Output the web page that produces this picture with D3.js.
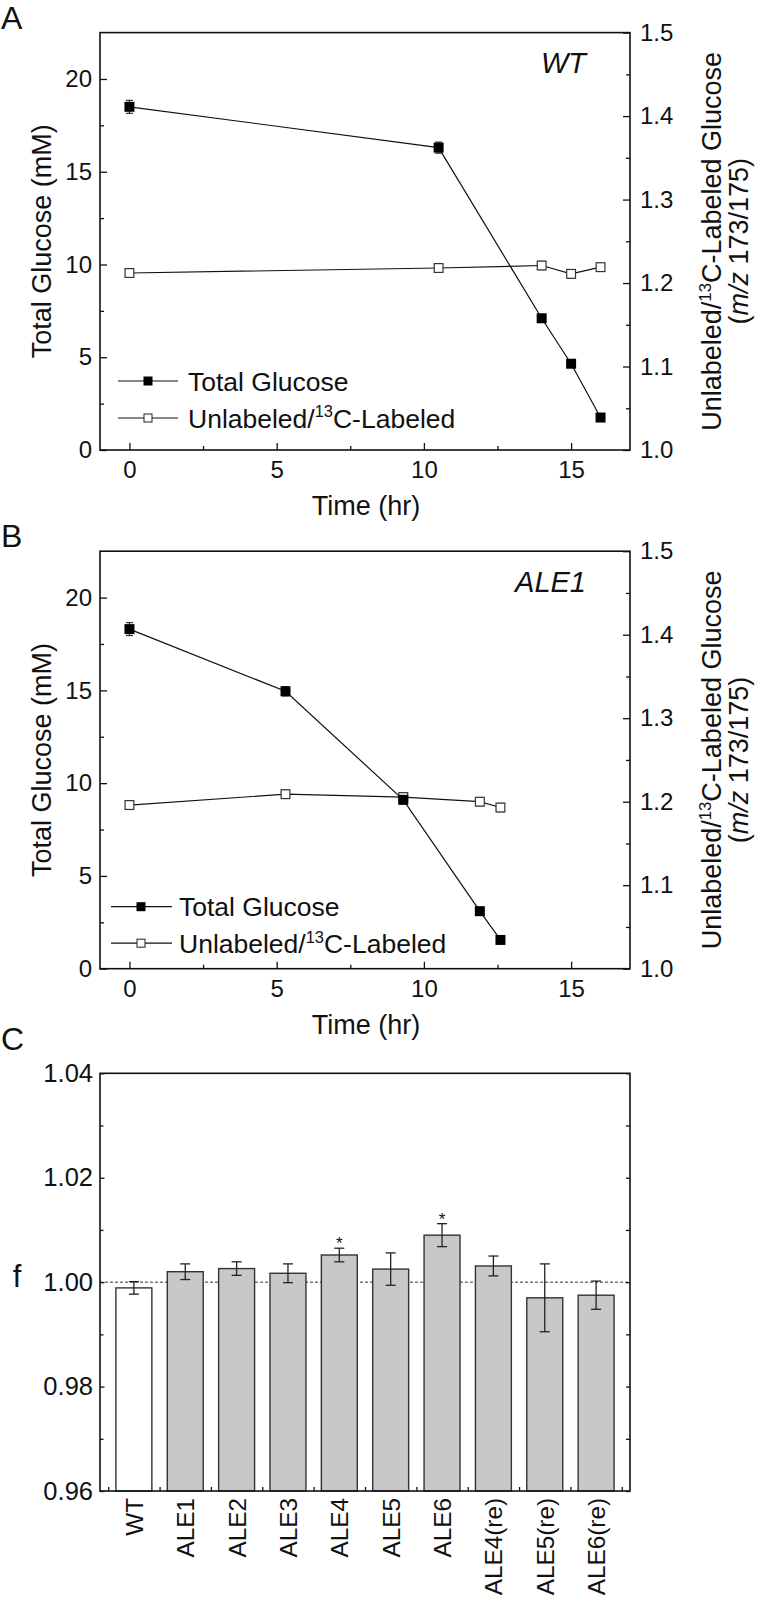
<!DOCTYPE html>
<html>
<head>
<meta charset="utf-8">
<script src="https://cdn.jsdelivr.net/npm/d3@7"></script>
<style>
  html, body { margin: 0; padding: 0; background: #fff; }
  svg { display: block; }
  text { font-family: "Liberation Sans", Arial, Helvetica, sans-serif; fill: #111; }
</style>
</head>
<body>
<svg id="chart" width="760" height="1599"></svg>
<script>
// ---------------- data ----------------
const timeA = [0, 10.5, 14, 15, 16];
const glucoseA = [18.5, 16.3, 7.1, 4.65, 1.75];
const glucoseErrA = [0.35, 0.3, 0.15, 0.1, 0.1];
const ratioA = [1.212, 1.218, 1.221, 1.211, 1.219];
const ratioErrA = [0.005, 0.005, 0.005, 0.005, 0.004];

const timeB = [0, 5.3, 9.3, 11.9, 12.6];
const glucoseB = [18.3, 14.95, 9.1, 3.1, 1.55];
const glucoseErrB = [0.35, 0.25, 0.2, 0.1, 0.1];
const ratioB = [1.196, 1.209, 1.2055, 1.200, 1.193];
const ratioErrB = [0.005, 0.005, 0.005, 0.005, 0.005];

const timeTicks = [0, 5, 10, 15];
const glucoseTicks = [0, 5, 10, 15, 20];
const ratioTicks = [1.0, 1.1, 1.2, 1.3, 1.4, 1.5];

const categories = ["WT", "ALE1", "ALE2", "ALE3", "ALE4", "ALE5", "ALE6", "ALE4(re)", "ALE5(re)", "ALE6(re)"];
const fValues = [0.9989, 1.0020, 1.0026, 1.0017, 1.0052, 1.0025, 1.0090, 1.0031, 0.9970, 0.9975];
const fErrors = [0.0012, 0.0015, 0.0013, 0.0018, 0.0013, 0.0031, 0.0022, 0.0019, 0.0065, 0.0027];
const fSignificant = [false, false, false, false, true, false, true, false, false, false];
const fTicks = [0.96, 0.98, 1.00, 1.02, 1.04];

// ---------------- drawing ----------------
const svg = d3.select("#chart");
const FONT_TICK = 24;
const FONT_TITLE = 27;
const FONT_LEG = 26.5;
const LEFT = 100, RIGHT = 630;

function styleAxis(g, size) {
  g.select(".domain").remove();
  g.selectAll("line").attr("stroke", "#111").attr("stroke-width", 1.3);
  g.selectAll("text").attr("font-size", size).attr("fill", "#111")
    .attr("font-family", '"Liberation Sans", Arial, sans-serif');
}

function addSuperLabel(textSel, before, sup, after) {
  textSel.append("tspan").text(before);
  textSel.append("tspan").attr("font-size", "0.62em").attr("dy", "-0.62em").text(sup);
  textSel.append("tspan").attr("dy", "0.385em").text(after);
}

function drawTimePanel(cfg) {
  const top = cfg.top, bottom = cfg.bottom;
  const x = d3.scaleLinear().domain([-1, 17]).range([LEFT, RIGHT]);
  const yL = d3.scaleLinear().domain([0, 22.5]).range([bottom, top]);
  const yR = d3.scaleLinear().domain([1.0, 1.5]).range([bottom, top]);
  const g = svg.append("g");

  // minor ticks
  g.append("g").attr("transform", `translate(${LEFT},0)`)
    .call(d3.axisLeft(yL).tickValues([2.5, 7.5, 12.5, 17.5]).tickSize(-4).tickFormat(""))
    .call(s => styleAxis(s, FONT_TICK));
  g.append("g").attr("transform", `translate(${RIGHT},0)`)
    .call(d3.axisRight(yR).tickValues([1.05, 1.15, 1.25, 1.35, 1.45]).tickSize(-4).tickFormat(""))
    .call(s => styleAxis(s, FONT_TICK));
  g.append("g").attr("transform", `translate(0,${bottom})`)
    .call(d3.axisBottom(x).tickValues([2.5, 7.5, 12.5]).tickSize(-4).tickFormat(""))
    .call(s => styleAxis(s, FONT_TICK));

  // major ticks
  g.append("g").attr("transform", `translate(${LEFT},0)`)
    .call(d3.axisLeft(yL).tickValues(glucoseTicks).tickSize(-7).tickPadding(8).tickFormat(d3.format("d")))
    .call(s => styleAxis(s, FONT_TICK));
  g.append("g").attr("transform", `translate(${RIGHT},0)`)
    .call(d3.axisRight(yR).tickValues(ratioTicks).tickSize(-7).tickPadding(10).tickFormat(d3.format(".1f")))
    .call(s => styleAxis(s, FONT_TICK));
  g.append("g").attr("transform", `translate(0,${bottom})`)
    .call(d3.axisBottom(x).tickValues(timeTicks).tickSize(-7).tickPadding(11).tickFormat(d3.format("d")))
    .call(s => styleAxis(s, FONT_TICK));

  // frame
  g.append("rect").attr("x", LEFT).attr("y", top).attr("width", RIGHT - LEFT).attr("height", bottom - top)
    .attr("fill", "none").attr("stroke", "#111").attr("stroke-width", 1.6);

  // titles
  g.append("text").attr("transform", `translate(51,${(top + bottom) / 2}) rotate(-90)`)
    .attr("text-anchor", "middle").attr("font-size", FONT_TITLE).text("Total Glucose (mM)");
  const rt = g.append("text").attr("transform", `translate(721,${(top + bottom) / 2}) rotate(-90)`)
    .attr("text-anchor", "middle").attr("font-size", FONT_TITLE);
  addSuperLabel(rt, "Unlabeled/", "13", "C-Labeled Glucose");
  const rt2 = g.append("text").attr("transform", `translate(748,${(top + bottom) / 2}) rotate(-90)`)
    .attr("text-anchor", "middle").attr("font-size", FONT_TITLE);
  rt2.append("tspan").text("(");
  rt2.append("tspan").attr("font-style", "italic").text("m/z");
  rt2.append("tspan").text(" 173/175)");
  g.append("text").attr("x", 366).attr("y", bottom + 65).attr("text-anchor", "middle")
    .attr("font-size", FONT_TITLE).text("Time (hr)");

  // panel label and strain
  g.append("text").attr("x", 1).attr("y", top - 4).attr("font-size", 32).text(cfg.label);
  g.append("text").attr("x", 586).attr("y", top + 40.5).attr("text-anchor", "end")
    .attr("font-size", 29).attr("font-style", "italic").text(cfg.strain);

  // series
  const lineL = d3.line().x((d, i) => x(cfg.time[i])).y(d => yL(d));
  const lineR = d3.line().x((d, i) => x(cfg.time[i])).y(d => yR(d));
  g.append("path").datum(cfg.ratio).attr("d", lineR).attr("fill", "none").attr("stroke", "#111").attr("stroke-width", 1.2);
  g.append("path").datum(cfg.glucose).attr("d", lineL).attr("fill", "none").attr("stroke", "#111").attr("stroke-width", 1.2);

  function errorBars(vals, errs, y) {
    const eg = g.append("g").attr("stroke", "#222").attr("stroke-width", 1.1);
    vals.forEach((v, i) => {
      const cx = x(cfg.time[i]);
      eg.append("line").attr("x1", cx).attr("x2", cx).attr("y1", y(v - errs[i])).attr("y2", y(v + errs[i]));
      [v - errs[i], v + errs[i]].forEach(e => {
        eg.append("line").attr("x1", cx - 3.5).attr("x2", cx + 3.5).attr("y1", y(e)).attr("y2", y(e));
      });
    });
  }
  errorBars(cfg.ratio, cfg.ratioErr, yR);
  errorBars(cfg.glucose, cfg.glucoseErr, yL);

  const ms = 10;
  g.selectAll(null).data(cfg.ratio).enter().append("rect")
    .attr("x", (d, i) => x(cfg.time[i]) - ms / 2 + 0.6).attr("y", d => yR(d) - ms / 2 + 0.6)
    .attr("width", ms - 1.2).attr("height", ms - 1.2)
    .attr("fill", "#fff").attr("stroke", "#333").attr("stroke-width", 1.2);
  g.selectAll(null).data(cfg.glucose).enter().append("rect")
    .attr("x", (d, i) => x(cfg.time[i]) - ms / 2).attr("y", d => yL(d) - ms / 2)
    .attr("width", ms).attr("height", ms).attr("fill", "#000");

  // legend
  const L = cfg.legend;
  const rows = [{ y: bottom - L.dy1, filled: true }, { y: bottom - L.dy2, filled: false }];
  rows.forEach((r, k) => {
    g.append("line").attr("x1", L.x0).attr("x2", L.x1).attr("y1", r.y).attr("y2", r.y)
      .attr("stroke", "#111").attr("stroke-width", 1.2);
    const s = k === 0 ? 9 : 8;
    g.append("rect").attr("x", L.xm - s / 2).attr("y", r.y - s / 2).attr("width", s).attr("height", s)
      .attr("fill", r.filled ? "#000" : "#fff").attr("stroke", r.filled ? "none" : "#333").attr("stroke-width", 1.1);
    const t = g.append("text").attr("x", L.xt).attr("y", r.y + 9.5).attr("font-size", FONT_LEG);
    if (k === 0) t.text("Total Glucose");
    else addSuperLabel(t, "Unlabeled/", "13", "C-Labeled");
  });
}

drawTimePanel({
  top: 32.6, bottom: 450, label: "A", strain: "WT",
  time: timeA, glucose: glucoseA, glucoseErr: glucoseErrA, ratio: ratioA, ratioErr: ratioErrA,
  legend: { x0: 118, x1: 178, xm: 148, xt: 188, dy1: 69, dy2: 32 }
});
drawTimePanel({
  top: 551.2, bottom: 968.7, label: "B", strain: "ALE1",
  time: timeB, glucose: glucoseB, glucoseErr: glucoseErrB, ratio: ratioB, ratioErr: ratioErrB,
  legend: { x0: 111, x1: 172, xm: 141, xt: 179, dy1: 62, dy2: 25.5 }
});

// ---------------- panel C ----------------
(function () {
  const top = 1073.3, bottom = 1491;
  const x = d3.scaleLinear().domain([-0.66, categories.length - 1 + 0.66]).range([LEFT, RIGHT]);
  const y = d3.scaleLinear().domain([0.96, 1.04]).range([bottom, top]);
  const g = svg.append("g");
  const step = x(1) - x(0);
  const bw = step * 0.70;

  // dashed reference line
  g.append("line").attr("x1", LEFT).attr("x2", RIGHT).attr("y1", y(1.0)).attr("y2", y(1.0))
    .attr("stroke", "#333").attr("stroke-width", 1).attr("stroke-dasharray", "3,2");

  // bars
  g.selectAll(null).data(fValues).enter().append("rect")
    .attr("x", (d, i) => x(i) - bw / 2).attr("y", d => y(d))
    .attr("width", bw).attr("height", d => bottom - y(d))
    .attr("fill", (d, i) => i === 0 ? "#ffffff" : "#c8c8c8")
    .attr("stroke", "#333").attr("stroke-width", 1.4);

  // error bars
  const eg = g.append("g").attr("stroke", "#222").attr("stroke-width", 1.3);
  fValues.forEach((v, i) => {
    const cx = x(i);
    eg.append("line").attr("x1", cx).attr("x2", cx).attr("y1", y(v - fErrors[i])).attr("y2", y(v + fErrors[i]));
    [v - fErrors[i], v + fErrors[i]].forEach(e => {
      eg.append("line").attr("x1", cx - 5).attr("x2", cx + 5).attr("y1", y(e)).attr("y2", y(e));
    });
    if (fSignificant[i]) {
      g.append("text").attr("x", cx).attr("y", y(v + fErrors[i]) + 1).attr("text-anchor", "middle")
        .attr("font-size", 17).text("*");
    }
  });

  // axes
  const minorF = [0.97, 0.99, 1.01, 1.03];
  g.append("g").attr("transform", `translate(${LEFT},0)`)
    .call(d3.axisLeft(y).tickValues(minorF).tickSize(-3.5).tickFormat(""))
    .call(s => styleAxis(s, 25.5));
  g.append("g").attr("transform", `translate(${LEFT},0)`)
    .call(d3.axisLeft(y).tickValues(fTicks).tickSize(-4.5).tickPadding(7).tickFormat(d3.format(".2f")))
    .call(s => styleAxis(s, 25.5));
  g.append("g").attr("transform", `translate(${RIGHT},0)`)
    .call(d3.axisRight(y).tickValues(fTicks.concat(minorF)).tickSize(-4).tickFormat(""))
    .call(s => styleAxis(s, 25.5));
  g.append("g").attr("transform", `translate(0,${bottom})`)
    .call(d3.axisBottom(x).tickValues(d3.range(-0.5, categories.length, 1)).tickSize(-4).tickFormat(""))
    .call(s => styleAxis(s, 25.5));

  // frame
  g.append("rect").attr("x", LEFT).attr("y", top).attr("width", RIGHT - LEFT).attr("height", bottom - top)
    .attr("fill", "none").attr("stroke", "#111").attr("stroke-width", 1.6);

  // category labels
  g.selectAll(null).data(categories).enter().append("text")
    .attr("transform", (d, i) => `translate(${x(i) + 9},${bottom + 7}) rotate(-90)`)
    .attr("text-anchor", "end").attr("font-size", 24.3).text(d => d);

  g.append("text").attr("x", 17).attr("y", 1287).attr("text-anchor", "middle").attr("font-size", 31).text("f");
  g.append("text").attr("x", 1).attr("y", 1050).attr("font-size", 32).text("C");
})();
</script>
</body>
</html>
